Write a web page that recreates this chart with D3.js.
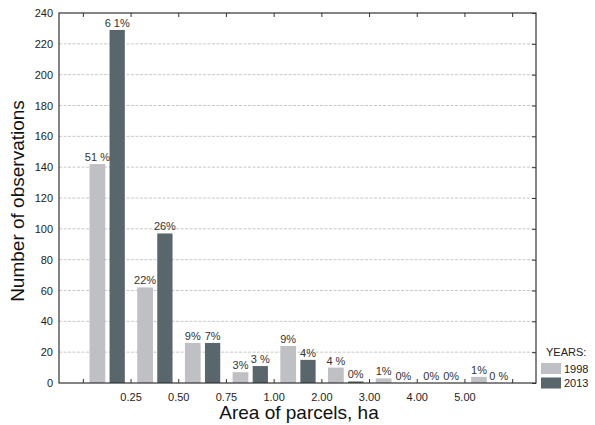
<!DOCTYPE html>
<html><head><meta charset="utf-8">
<script src="https://cdn.jsdelivr.net/npm/d3@7"></script>
<style>body{margin:0;background:#fff}svg{display:block;font-family:"Liberation Sans",Arial,sans-serif}</style>
</head><body><svg id="c" width="595" height="425"></svg>
<script>
const categories = ["<0.25","0.25-0.50","0.50-0.75","0.75-1.00","1.00-2.00","2.00-3.00","3.00-4.00","4.00-5.00",">5.00"];
const tickLabels = ["", "0.25","0.50","0.75","1.00","2.00","3.00","4.00","5.00", ""];
const years = ["1998","2013"];
const values1998 = [142, 62, 26, 7, 24, 10, 3, 0, 4];
const values2013 = [229, 97, 26, 11, 15, 1, 0, 0, 0];
const pct1998 = ["51 %","22%","9%","3%","9%","4 %","1%","0%","1%"];
const pct2013 = ["6 1%","26%","7%","3 %","4%","0%","0%","0%","0 %"];
const yTicks = [0,20,40,60,80,100,120,140,160,180,200,220,240];
const colors = ["#bec0c3","#59666c"];

const svg = d3.select("#c");
const L = 59, R = 536, T = 13, B = 383;
const x = d3.scaleLinear().domain([-0.5, 9.5]).range([L, R]);
const y = d3.scaleLinear().domain([0, 240]).range([B, T]);
const FONT = "'Liberation Sans', Arial, sans-serif";

// gridlines
svg.append("g").selectAll("line").data(yTicks.filter(d => d > 0 && d < 240)).join("line")
  .attr("x1", L).attr("x2", R).attr("y1", d => y(d)).attr("y2", d => y(d))
  .attr("stroke", "#c8c8c8").attr("stroke-width", 1).attr("stroke-dasharray", "3,1.5");

// bars
const unit = x(1) - x(0);
const series = [values1998, values2013];
const offsets = [[-0.36, -0.03], [0.06, 0.38]];
series.forEach((vals, si) => {
  svg.append("g").selectAll("rect").data(vals).join("rect")
    .attr("x", (d, i) => x(i + 0.5 + offsets[si][0]))
    .attr("width", (offsets[si][1] - offsets[si][0]) * unit)
    .attr("y", d => y(d))
    .attr("height", d => B - y(d))
    .attr("fill", colors[si]);
});

// percent labels
const pcts = [pct1998, pct2013];
pcts.forEach((labs, si) => {
  svg.append("g").selectAll("text").data(labs).join("text")
    .attr("x", (d, i) => x(i + 0.5 + (offsets[si][0] + offsets[si][1]) / 2))
    .attr("y", (d, i) => y(series[si][i]) - 3)
    .attr("text-anchor", "middle").attr("font-size", 11).attr("fill", "#333")
    .attr("font-family", FONT)
    .text(d => d);
});

// axes
const xb = d3.axisBottom(x).tickValues(d3.range(10)).tickSize(-4).tickPadding(10)
  .tickFormat((d, i) => tickLabels[i]);
const gxb = svg.append("g").attr("transform", `translate(0,${B})`).call(xb);
const xt = d3.axisTop(x).tickValues(d3.range(10)).tickSize(-4).tickFormat("");
const gxt = svg.append("g").attr("transform", `translate(0,${T})`).call(xt);
const yl = d3.axisLeft(y).tickValues(yTicks).tickSize(0).tickPadding(6).tickFormat(d3.format("d"));
const gyl = svg.append("g").attr("transform", `translate(${L},0)`).call(yl);
const yr = d3.axisRight(y).tickValues(yTicks).tickSize(-4).tickFormat("");
const gyr = svg.append("g").attr("transform", `translate(${R},0)`).call(yr);
[gxb, gxt, gyl, gyr].forEach(g => {
  g.attr("font-family", FONT);
  g.select(".domain").remove();
  g.selectAll("line").attr("stroke", "#333");
  g.selectAll("text").attr("font-size", 11).attr("fill", "#222");
});
svg.append("rect").attr("x", L).attr("y", T).attr("width", R - L).attr("height", B - T)
  .attr("fill", "none").attr("stroke", "#333").attr("stroke-width", 1.2);

// axis titles
svg.append("text").attr("x", 299).attr("y", 419).attr("text-anchor", "middle")
  .attr("font-family", FONT).attr("font-size", 19).attr("fill", "#111").text("Area of parcels, ha");
svg.append("text").attr("transform", `translate(24,${(T + B) / 2 + 3}) rotate(-90)`)
  .attr("font-family", FONT).attr("text-anchor", "middle").attr("font-size", 19).attr("fill", "#111").text("Number of observations");

// legend
const lg = svg.append("g").attr("font-family", FONT);
lg.append("text").attr("x", 546).attr("y", 356).attr("font-size", 11).attr("fill", "#222").text("YEARS:");
years.forEach((yr, i) => {
  lg.append("rect").attr("x", 541).attr("y", 363 + i * 14.5).attr("width", 20).attr("height", 11).attr("fill", colors[i]);
  lg.append("text").attr("x", 564).attr("y", 372.5 + i * 14.5).attr("font-size", 11).attr("fill", "#222").text(yr);
});
</script></body></html>
